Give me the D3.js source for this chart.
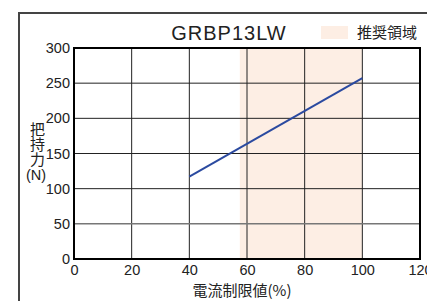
<!DOCTYPE html>
<html><head><meta charset="utf-8">
<script src="https://cdn.jsdelivr.net/npm/d3@7"></script>
<style>body{margin:0;background:#fff}svg{display:block}</style>
</head><body>
<script>
const title = "GRBP13LW";
const legendLabel = "推奨領域";
const xLabel = "電流制限値(%)";
const yLabelMain = "把持力";
const yLabelUnit = "(N)";
const xTicks = [0,20,40,60,80,100,120];
const yTicks = [0,50,100,150,200,250,300];
const recommended = [57.5, 100];
const lineX = [40, 100];
const lineY = [117, 257];

const W=427,H=301;
const svg=d3.select("body").append("svg").attr("width",W).attr("height",H);
const font="Liberation Sans, Arial, Helvetica, sans-serif";
const cjk="'Noto Sans CJK JP', sans-serif";
const x=d3.scaleLinear().domain([0,120]).range([74,420]);
const y=d3.scaleLinear().domain([0,300]).range([259,48]);

// outer frame
svg.append("path").attr("d","M19,302 L19,13 L428,13").attr("fill","none").attr("stroke","#444").attr("stroke-width",2);

// recommended region
svg.append("rect").attr("x",x(recommended[0])).attr("y",y(300)).attr("width",x(recommended[1])-x(recommended[0])).attr("height",y(0)-y(300)).attr("fill","#fdeee4");

// grid
const g=svg.append("g");
xTicks.slice(1,-1).forEach(v=>g.append("line").attr("x1",x(v)).attr("x2",x(v)).attr("y1",y(0)).attr("y2",y(300)).attr("stroke","#222").attr("stroke-width",1));
yTicks.slice(1,-1).forEach(v=>g.append("line").attr("x1",x(0)).attr("x2",x(120)).attr("y1",y(v)).attr("y2",y(v)).attr("stroke",v===50?"#777":"#222").attr("stroke-width",v===50?1.5:1));

// data line
svg.append("path").datum(lineX.map((v,i)=>[v,lineY[i]]))
  .attr("d",d3.line().x(d=>x(d[0])).y(d=>y(d[1])))
  .attr("fill","none").attr("stroke","#2b4aa0").attr("stroke-width",2);

// plot frame
svg.append("rect").attr("x",x(0)).attr("y",y(300)).attr("width",x(120)-x(0)).attr("height",y(0)-y(300)).attr("fill","none").attr("stroke","#000").attr("stroke-width",2);

// axes tick labels
const yAxis=d3.axisLeft(y).tickValues(yTicks).tickSize(0).tickPadding(4);
const ya=svg.append("g").attr("transform",`translate(${x(0)},0)`).call(yAxis);
ya.select(".domain").remove();
ya.selectAll("text").attr("font-family",font).attr("font-size",14.5).attr("fill","#222");
const xAxis=d3.axisBottom(x).tickValues(xTicks).tickSize(0).tickPadding(6);
const xa=svg.append("g").attr("transform",`translate(0,${y(0)})`).call(xAxis);
xa.select(".domain").remove();
xa.selectAll("text").attr("font-family",font).attr("font-size",14.5).attr("fill","#222");

// title
svg.append("text").attr("x",229).attr("y",40).attr("text-anchor","middle").attr("font-family",font).attr("font-size",20).attr("letter-spacing",1).attr("fill","#222").text(title);

// legend
svg.append("rect").attr("x",321).attr("y",26).attr("width",27).attr("height",13).attr("fill","#fdeee4");
svg.append("text").attr("x",357).attr("y",38).attr("font-family",cjk).attr("font-size",15).attr("fill","#222").text(legendLabel);

// y label: vertical CJK + unit
svg.append("text").attr("x",37.5).attr("y",121.5).attr("writing-mode","vertical-rl")
  .attr("font-family",cjk).attr("font-size",15).attr("fill","#222").text(yLabelMain);
svg.append("text").attr("x",36).attr("y",180).attr("text-anchor","middle")
  .attr("font-family",font).attr("font-size",14.5).attr("fill","#222").text(yLabelUnit);

// x label
svg.append("text").attr("x",242).attr("y",296).attr("text-anchor","middle").attr("font-family",cjk).attr("font-size",15).attr("fill","#222").text(xLabel);
</script>
</body></html>
